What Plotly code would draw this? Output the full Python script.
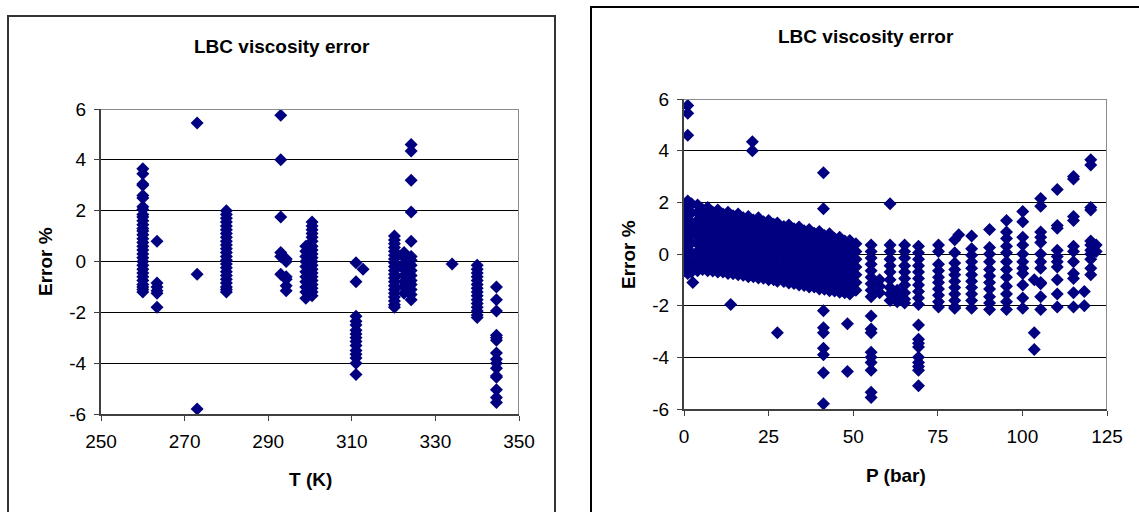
import plotly.graph_objects as go

W, H = 1139, 512
FONT = "Arial, 'Liberation Sans', sans-serif"

# ---------------- Left chart: error (%) vs temperature T (K) ----------------
err_T260 = [3.65, 3.45, 3.05, 3.0, 2.6, 2.5, 2.15, 2.05, 1.85, 1.75, 1.6, 1.45, 1.3, 1.2,
            1.05, 0.9, 0.75, 0.6, 0.45, 0.3, 0.15, 0.0, -0.15, -0.3, -0.45, -0.6, -0.75,
            -0.9, -1.0, -1.1, -1.2]
err_T263 = [0.8, -0.85, -1.0, -1.15, -1.25, -1.8]
err_T273 = [5.45, -0.5, -5.8]
err_T280 = [2.0, 1.85, 1.7, 1.55, 1.4, 1.25, 1.1, 0.95, 0.8, 0.65, 0.5, 0.35, 0.2, 0.05,
            -0.1, -0.25, -0.4, -0.55, -0.7, -0.85, -1.0, -1.1, -1.2]
err_T293 = [5.75, 4.0, 1.75, 0.35, 0.2, -0.5]
err_T294 = [0.1, 0.0, -0.6, -0.7, -0.95, -1.15]
err_T299 = [0.6, 0.4, 0.2, 0.0, -0.2, -0.4, -0.6, -0.8, -1.0, -1.2, -1.45]
err_T300 = [1.55, 1.4, 1.25, 1.1, 0.95, 0.8, 0.6, 0.45, 0.3, 0.15, 0.0, -0.15, -0.3,
            -0.45, -0.6, -0.75, -0.9, -1.05, -1.2, -1.35]
err_T311 = [-0.05, -0.8, -2.15, -2.35, -2.5, -2.7, -2.85, -3.0, -3.15, -3.3, -3.5, -3.65,
            -3.8, -4.0, -4.45]
err_T313 = [-0.3]
err_T320 = [1.0, 0.85, 0.7, 0.55, 0.4, 0.25, 0.1, -0.05, -0.2, -0.35, -0.5, -0.65, -0.8,
            -0.95, -1.1, -1.25, -1.4, -1.55, -1.7, -1.8]
err_T322 = [0.35, 0.15, -0.1, -0.3, -0.55, -0.8, -1.0, -1.25]
err_T324 = [4.6, 4.35, 3.2, 1.95, 0.8, 0.2, 0.05, -0.15, -0.35, -0.55, -0.75, -0.9, -1.1,
            -1.3, -1.5]
err_T334 = [-0.1]
err_T340 = [-0.15, -0.3, -0.45, -0.6, -0.75, -0.9, -1.05, -1.2, -1.35, -1.5, -1.65, -1.8,
            -1.95, -2.1, -2.2]
err_T345 = [-1.0, -1.5, -1.95, -2.9, -3.0, -3.1, -3.6, -3.85, -4.0, -4.2, -4.5, -4.55,
            -5.05, -5.35, -5.55]

temp_columns = [(260.0, err_T260), (263.4, err_T263), (273.0, err_T273), (280.0, err_T280),
                (293.0, err_T293), (294.3, err_T294), (299.0, err_T299), (300.5, err_T300),
                (311.0, err_T311), (312.7, err_T313), (320.2, err_T320), (322.5, err_T322),
                (324.2, err_T324), (334.0, err_T334), (340.0, err_T340), (344.6, err_T345)]

# ---------------- Right chart: error (%) vs pressure P (bar) ----------------
err_P00 = [1.9, 1.5, 1.1, 0.7, 0.3, -0.1, -0.5]
err_P01 = [5.75, 5.45, 4.6, 2.05, 1.8, 1.55, 1.3, 1.05, 0.8, 0.55, 0.3, 0.05, -0.2, -0.45, -0.75]
err_P02 = [1.95, 1.6, 1.2, 0.85, 0.45, 0.05, -0.35, -0.7]
err_P03 = [-1.1]
err_P04 = [1.9, 1.6, 1.3, 1.0, 0.7, 0.4, 0.1, -0.2, -0.45, -0.65]
err_P055 = [1.72, 1.45, 1.15, 0.85, 0.55, 0.25, -0.05, -0.33, -0.6]
err_P07 = [1.8, 1.5, 1.2, 0.95, 0.65, 0.35, 0.05, -0.2, -0.45, -0.65]
err_P085 = [1.62, 1.35, 1.05, 0.78, 0.48, 0.2, -0.1, -0.38, -0.66]
err_P10 = [1.7, 1.45, 1.15, 0.85, 0.6, 0.3, 0.0, -0.25, -0.5, -0.7]
err_P115 = [1.55, 1.28, 1.0, 0.72, 0.45, 0.15, -0.15, -0.42, -0.7]
err_P13 = [1.62, 1.35, 1.05, 0.8, 0.5, 0.2, -0.05, -0.3, -0.55, -0.75]
err_P14 = [-1.95]
err_P145 = [1.48, 1.2, 0.92, 0.62, 0.35, 0.05, -0.22, -0.5, -0.76]
err_P16 = [1.55, 1.25, 1.0, 0.7, 0.45, 0.15, -0.1, -0.35, -0.6, -0.8]
err_P175 = [1.4, 1.12, 0.85, 0.55, 0.28, 0.0, -0.28, -0.55, -0.82]
err_P19 = [1.45, 1.2, 0.9, 0.65, 0.35, 0.1, -0.15, -0.4, -0.65, -0.88]
err_P20 = [4.35, 4.0]
err_P205 = [1.32, 1.03, 0.75, 0.48, 0.2, -0.07, -0.35, -0.62, -0.88]
err_P22 = [1.4, 1.1, 0.85, 0.55, 0.3, 0.05, -0.2, -0.45, -0.7, -0.93]
err_P235 = [1.25, 0.95, 0.68, 0.4, 0.12, -0.15, -0.42, -0.68, -0.94]
err_P25 = [1.3, 1.05, 0.75, 0.5, 0.25, 0.0, -0.25, -0.5, -0.75, -1.0]
err_P265 = [1.15, 0.88, 0.6, 0.33, 0.05, -0.22, -0.5, -0.75, -1.0]
err_P28 = [1.2, 0.95, 0.7, 0.45, 0.2, -0.05, -0.3, -0.55, -0.8, -1.05, -3.05]
err_P295 = [1.06, 0.8, 0.52, 0.25, -0.02, -0.3, -0.56, -0.82, -1.06]
err_P31 = [1.12, 0.85, 0.6, 0.35, 0.1, -0.15, -0.4, -0.65, -0.9, -1.12]
err_P325 = [0.98, 0.72, 0.45, 0.18, -0.08, -0.36, -0.62, -0.9, -1.14]
err_P34 = [1.05, 0.8, 0.55, 0.3, 0.05, -0.2, -0.45, -0.7, -0.95, -1.2]
err_P355 = [0.9, 0.63, 0.36, 0.1, -0.16, -0.43, -0.7, -0.96, -1.22]
err_P37 = [0.95, 0.7, 0.45, 0.2, -0.05, -0.3, -0.55, -0.8, -1.05, -1.28]
err_P385 = [0.8, 0.55, 0.28, 0.02, -0.25, -0.5, -0.77, -1.03, -1.28]
err_P40 = [0.87, 0.6, 0.35, 0.1, -0.15, -0.4, -0.65, -0.9, -1.15, -1.35]
err_P41 = [3.15, 1.75, -2.2, -2.85, -3.05, -3.65, -3.9, -4.6, -5.8]
err_P415 = [0.72, 0.46, 0.2, -0.06, -0.32, -0.58, -0.84, -1.1, -1.36]
err_P43 = [0.78, 0.5, 0.25, 0.0, -0.25, -0.5, -0.75, -1.0, -1.2, -1.42]
err_P445 = [0.6, 0.36, 0.1, -0.15, -0.4, -0.66, -0.92, -1.18, -1.43]
err_P46 = [0.65, 0.4, 0.15, -0.1, -0.35, -0.6, -0.85, -1.1, -1.3, -1.48]
err_P475 = [0.5, 0.25, 0.0, -0.25, -0.5, -0.76, -1.0, -1.25, -1.5]
err_P48 = [-2.7, -4.55]
err_P49 = [0.52, 0.3, 0.05, -0.2, -0.45, -0.7, -0.95, -1.15, -1.35, -1.55]
err_P51 = [0.4, 0.1, -0.2, -0.5, -0.8, -1.1, -1.4]
err_P55 = [0.35, 0.1, -0.15, -0.4, -0.65, -0.9, -1.15, -1.4, -1.65, -2.4, -2.9, -3.05,
           -3.8, -4.0, -4.2, -4.5, -5.35, -5.55]
err_P58 = [-1.0, -1.25, -1.5]
err_P61 = [1.95, 0.35, 0.1, -0.2, -0.45, -0.7, -1.0, -1.3, -1.55, -1.8]
err_P63 = [-1.4, -1.6, -1.85]
err_P65 = [0.35, 0.1, -0.15, -0.45, -0.7, -0.95, -1.2, -1.5, -1.75, -1.9]
err_P69 = [0.3, 0.05, -0.2, -0.45, -0.7, -0.95, -1.2, -1.45, -1.7, -1.95, -2.75, -3.3,
           -3.45, -3.6, -4.0, -4.2, -4.35, -4.5, -5.1]
err_P75 = [0.35, 0.1, -0.4, -0.65, -0.9, -1.1, -1.35, -1.6, -1.85, -2.05]
err_P80 = [0.55, 0.05, -0.35, -0.6, -0.8, -1.05, -1.3, -1.55, -1.8, -2.05, -2.1]
err_P81 = [0.75]
err_P85 = [0.7, 0.2, -0.05, -0.3, -0.55, -0.8, -1.05, -1.3, -1.55, -1.8, -2.1]
err_P90 = [0.95, 0.25, 0.0, -0.3, -0.6, -0.85, -1.1, -1.35, -1.65, -1.9, -2.15]
err_P95 = [1.3, 0.85, 0.6, 0.3, 0.05, -0.3, -0.6, -0.9, -1.25, -1.55, -1.85, -2.15]
err_P100 = [1.65, 1.25, 0.65, 0.35, 0.0, -0.3, -0.55, -0.75, -1.2, -1.7, -2.1]
err_P103 = [-1.0, -3.05, -3.7]
err_P105 = [2.15, 1.85, 0.85, 0.65, 0.45, 0.0, -0.3, -0.55, -1.1, -1.15, -1.65, -2.15]
err_P110 = [2.5, 1.1, 1.0, 0.15, -0.1, -0.3, -0.5, -1.0, -1.55, -2.05]
err_P115b = [3.0, 2.9, 1.45, 1.3, 0.3, 0.1, -0.3, -0.75, -0.95, -1.5, -2.05]
err_P118 = [-1.45, -2.0]
err_P120 = [3.65, 3.45, 1.8, 1.7, 0.5, 0.35, 0.15, 0.0, -0.2, -0.55, -0.8]
err_P122 = [0.35, 0.1]

press_columns = [(0.3, err_P00), (1.1, err_P01), (2.2, err_P02), (2.6, err_P03),
                 (4.0, err_P04), (5.5, err_P055), (7.0, err_P07), (8.5, err_P085),
                 (10.0, err_P10), (11.5, err_P115), (13.0, err_P13), (13.8, err_P14),
                 (14.5, err_P145), (16.0, err_P16), (17.5, err_P175), (19.0, err_P19),
                 (20.2, err_P20), (20.5, err_P205), (22.0, err_P22), (23.5, err_P235),
                 (25.0, err_P25), (26.5, err_P265), (27.6, err_P28), (29.5, err_P295),
                 (31.0, err_P31), (32.5, err_P325), (34.0, err_P34), (35.5, err_P355),
                 (37.0, err_P37), (38.5, err_P385), (40.0, err_P40), (41.2, err_P41),
                 (41.5, err_P415), (43.0, err_P43), (44.5, err_P445), (46.0, err_P46),
                 (47.5, err_P475), (48.3, err_P48), (49.0, err_P49), (50.8, err_P51),
                 (55.3, err_P55), (57.8, err_P58), (60.9, err_P61), (63.0, err_P63),
                 (65.2, err_P65), (69.3, err_P69), (75.2, err_P75), (80.0, err_P80),
                 (81.2, err_P81), (85.0, err_P85), (90.3, err_P90), (95.3, err_P95),
                 (100.1, err_P100), (103.5, err_P103), (105.4, err_P105), (110.3, err_P110),
                 (115.1, err_P115b), (118.3, err_P118), (120.2, err_P120), (121.8, err_P122)]

T_ticks = [250, 270, 290, 310, 330, 350]
P_ticks = [0, 25, 50, 75, 100, 125]
E_ticks = [-6, -4, -2, 0, 2, 4, 6]
E_labels = ["-6", "-4", "-2", "0", "2", "4", "6"]


def flatten(cols):
    xs, ys = [], []
    for x, vals in cols:
        xs += [x] * len(vals)
        ys += list(vals)
    return xs, ys


def px(x):
    return x / W


def py(y):
    return 1 - y / H


tx, ty = flatten(temp_columns)
pxs, pys = flatten(press_columns)

marker = dict(symbol="diamond", size=10, color="#000080", line=dict(width=0))

fig = go.Figure()
fig.add_trace(go.Scatter(x=tx, y=ty, mode="markers", marker=marker,
                         xaxis="x", yaxis="y", showlegend=False, hoverinfo="x+y"))
fig.add_trace(go.Scatter(x=pxs, y=pys, mode="markers", marker=marker,
                         xaxis="x2", yaxis="y2", showlegend=False, hoverinfo="x+y"))

tickfont = dict(family=FONT, size=19, color="black")
common = dict(showline=True, linecolor="#404040", linewidth=2, ticks="outside", ticklen=5,
              tickwidth=1, tickcolor="#404040", tickfont=tickfont, zeroline=False,
              automargin=False, ticklabelstandoff=4)

fig.update_layout(
    template="none",
    width=W, height=H,
    margin=dict(l=0, r=0, t=0, b=0, pad=0, autoexpand=False),
    paper_bgcolor="white", plot_bgcolor="white",
    font=dict(family=FONT, color="black"),
    xaxis=dict(domain=[px(101), px(519)], range=[250, 350], tickvals=T_ticks,
               showgrid=False, anchor="y", **common),
    yaxis=dict(domain=[py(414), py(109)], range=[-6, 6], tickvals=E_ticks, ticktext=E_labels,
               showgrid=True, gridcolor="black", gridwidth=1, anchor="x", **common),
    xaxis2=dict(domain=[px(684), px(1107)], range=[0, 125], tickvals=P_ticks,
                showgrid=False, anchor="y2", **common),
    yaxis2=dict(domain=[py(409), py(99)], range=[-6, 6], tickvals=E_ticks, ticktext=E_labels,
                showgrid=True, gridcolor="black", gridwidth=1, anchor="x2", **common),
)

shapes = [
    dict(type="rect", xref="paper", yref="paper", x0=px(8), x1=px(555), y0=py(16), y1=py(540),
         line=dict(color="#333333", width=2), fillcolor="rgba(0,0,0,0)", layer="below"),
    dict(type="rect", xref="paper", yref="paper", x0=px(591), x1=px(1141), y0=py(7), y1=py(540),
         line=dict(color="black", width=2), fillcolor="rgba(0,0,0,0)", layer="below"),
    dict(type="line", xref="x", yref="y", x0=250, x1=350, y0=6, y1=6,
         line=dict(color="#8c8c8c", width=2), layer="above"),
    dict(type="line", xref="x", yref="y", x0=350, x1=350, y0=6, y1=-6,
         line=dict(color="#8c8c8c", width=2), layer="above"),
    dict(type="line", xref="x2", yref="y2", x0=0, x1=125, y0=6, y1=6,
         line=dict(color="#8c8c8c", width=2), layer="above"),
    dict(type="line", xref="x2", yref="y2", x0=125, x1=125, y0=6, y1=-6,
         line=dict(color="#8c8c8c", width=2), layer="above"),
]
fig.update_layout(shapes=shapes)


def ann(text, x, y, angle=0):
    return dict(text=text, xref="paper", yref="paper", x=px(x), y=py(y), showarrow=False,
                xanchor="center", yanchor="middle", textangle=angle,
                font=dict(family=FONT, size=19, color="black"))


fig.update_layout(annotations=[
    ann("<b>LBC viscosity error</b>", 282, 46),
    ann("<b>LBC viscosity error</b>", 866, 36),
    ann("<b>T (K)</b>", 310, 479),
    ann("<b>P (bar)</b>", 896, 475),
    ann("<b>Error %</b>", 45, 262, -90),
    ann("<b>Error %</b>", 628, 255, -90),
])

fig.write_html("out.html", config={"displayModeBar": False},
               post_script="document.body.style.margin='0px';"
                           "document.body.style.overflow='hidden';")
